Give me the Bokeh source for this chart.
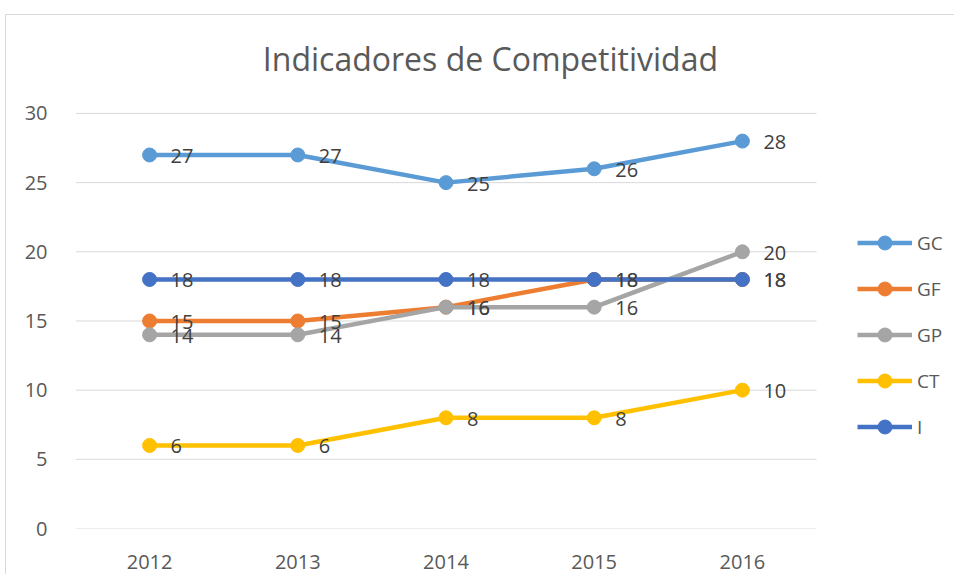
from bokeh.plotting import figure
from bokeh.models import Range1d, Legend, LegendItem, Label, ColumnDataSource, FixedTicker
from bokeh.core.properties import value
from bokeh.embed import file_html
from bokeh.resources import INLINE

years = ["2012", "2013", "2014", "2015", "2016"]
series_names = ["GC", "GF", "GP", "CT", "I"]
gc = [27, 27, 25, 26, 28]
gf = [15, 15, 16, 18, 18]
gp = [14, 14, 16, 16, 20]
ct = [6, 6, 8, 8, 10]
ind = [18, 18, 18, 18, 18]
colors = ["#5B9BD5", "#ED7D31", "#A5A5A5", "#FFC000", "#4472C4"]
y_ticks = [0, 5, 10, 15, 20, 25, 30]
title_text = "Indicadores de Competitividad"

FONT = "Open Sans"
TXT = "#595959"

xs = list(range(len(years)))
X_START = -0.5
X_END = len(years) - 0.5

p = figure(width=949, height=560, x_range=Range1d(X_START, 5.438),
           y_range=Range1d(0, 37.08), output_backend="svg", toolbar_location=None,
           min_border_left=69, min_border_right=0, min_border_top=0, min_border_bottom=47)
p.styles = {"border-left": "1px solid #D9D9D9", "border-top": "1px solid #D9D9D9",
            "margin-left": "5px", "margin-top": "14px"}
p.title.visible = False
p.outline_line_color = None
p.background_fill_color = "white"
p.border_fill_color = "white"

p.xgrid.grid_line_color = None
p.ygrid.grid_line_color = None
p.xaxis.ticker = FixedTicker(ticks=xs)
p.xaxis.major_label_overrides = {i: y for i, y in enumerate(years)}
p.yaxis.ticker = FixedTicker(ticks=y_ticks)

# horizontal gridlines limited to plot area
p.segment(x0=[X_START] * len(y_ticks), x1=[X_END] * len(y_ticks), y0=y_ticks, y1=y_ticks,
          line_color="#D9D9D9", line_width=1)

for ax in (p.xaxis[0], p.yaxis[0]):
    ax.axis_line_color = None
    ax.major_tick_line_color = None
    ax.minor_tick_line_color = None
    ax.major_label_text_font = FONT
    ax.major_label_text_font_size = "20px"
    ax.major_label_text_color = TXT
p.yaxis.major_label_standoff = 22
p.xaxis.major_label_standoff = 20

all_series = [gc, gf, gp, ct, ind]
items = []
for name, vals, col in zip(series_names, all_series, colors):
    src = ColumnDataSource(dict(x=xs, y=vals, t=[str(v) for v in vals]))
    ln = p.line("x", "y", source=src, line_color=col, line_width=4.5)
    sc = p.scatter("x", "y", source=src, size=14, fill_color=col, line_color=col)
    items.append(LegendItem(label=name, renderers=[ln, sc]))

for name, vals, col in zip(series_names, all_series, colors):
    src = ColumnDataSource(dict(x=xs, y=vals, t=[str(v) for v in vals]))
    p.text("x", "y", text="t", source=src, x_offset=21, y_offset=1,
           text_font=value(FONT), text_font_size="20px", text_color="#404040",
           text_align="left", text_baseline="middle")

legend = Legend(items=items, location=(782, 84), orientation="vertical",
                glyph_width=55, glyph_height=35, label_height=35, spacing=11,
                label_standoff=5, padding=0, margin=0,
                label_text_font=FONT, label_text_font_size="19px", label_text_color=TXT,
                border_line_color=None, background_fill_alpha=0)
p.add_layout(legend)

title = Label(x=2.3, y=33.98, text=title_text, text_align="center", text_baseline="alphabetic",
              text_font=FONT, text_font_size="32px", text_color=TXT)
p.add_layout(title)

open("out.html", "w").write(file_html(p, INLINE))
